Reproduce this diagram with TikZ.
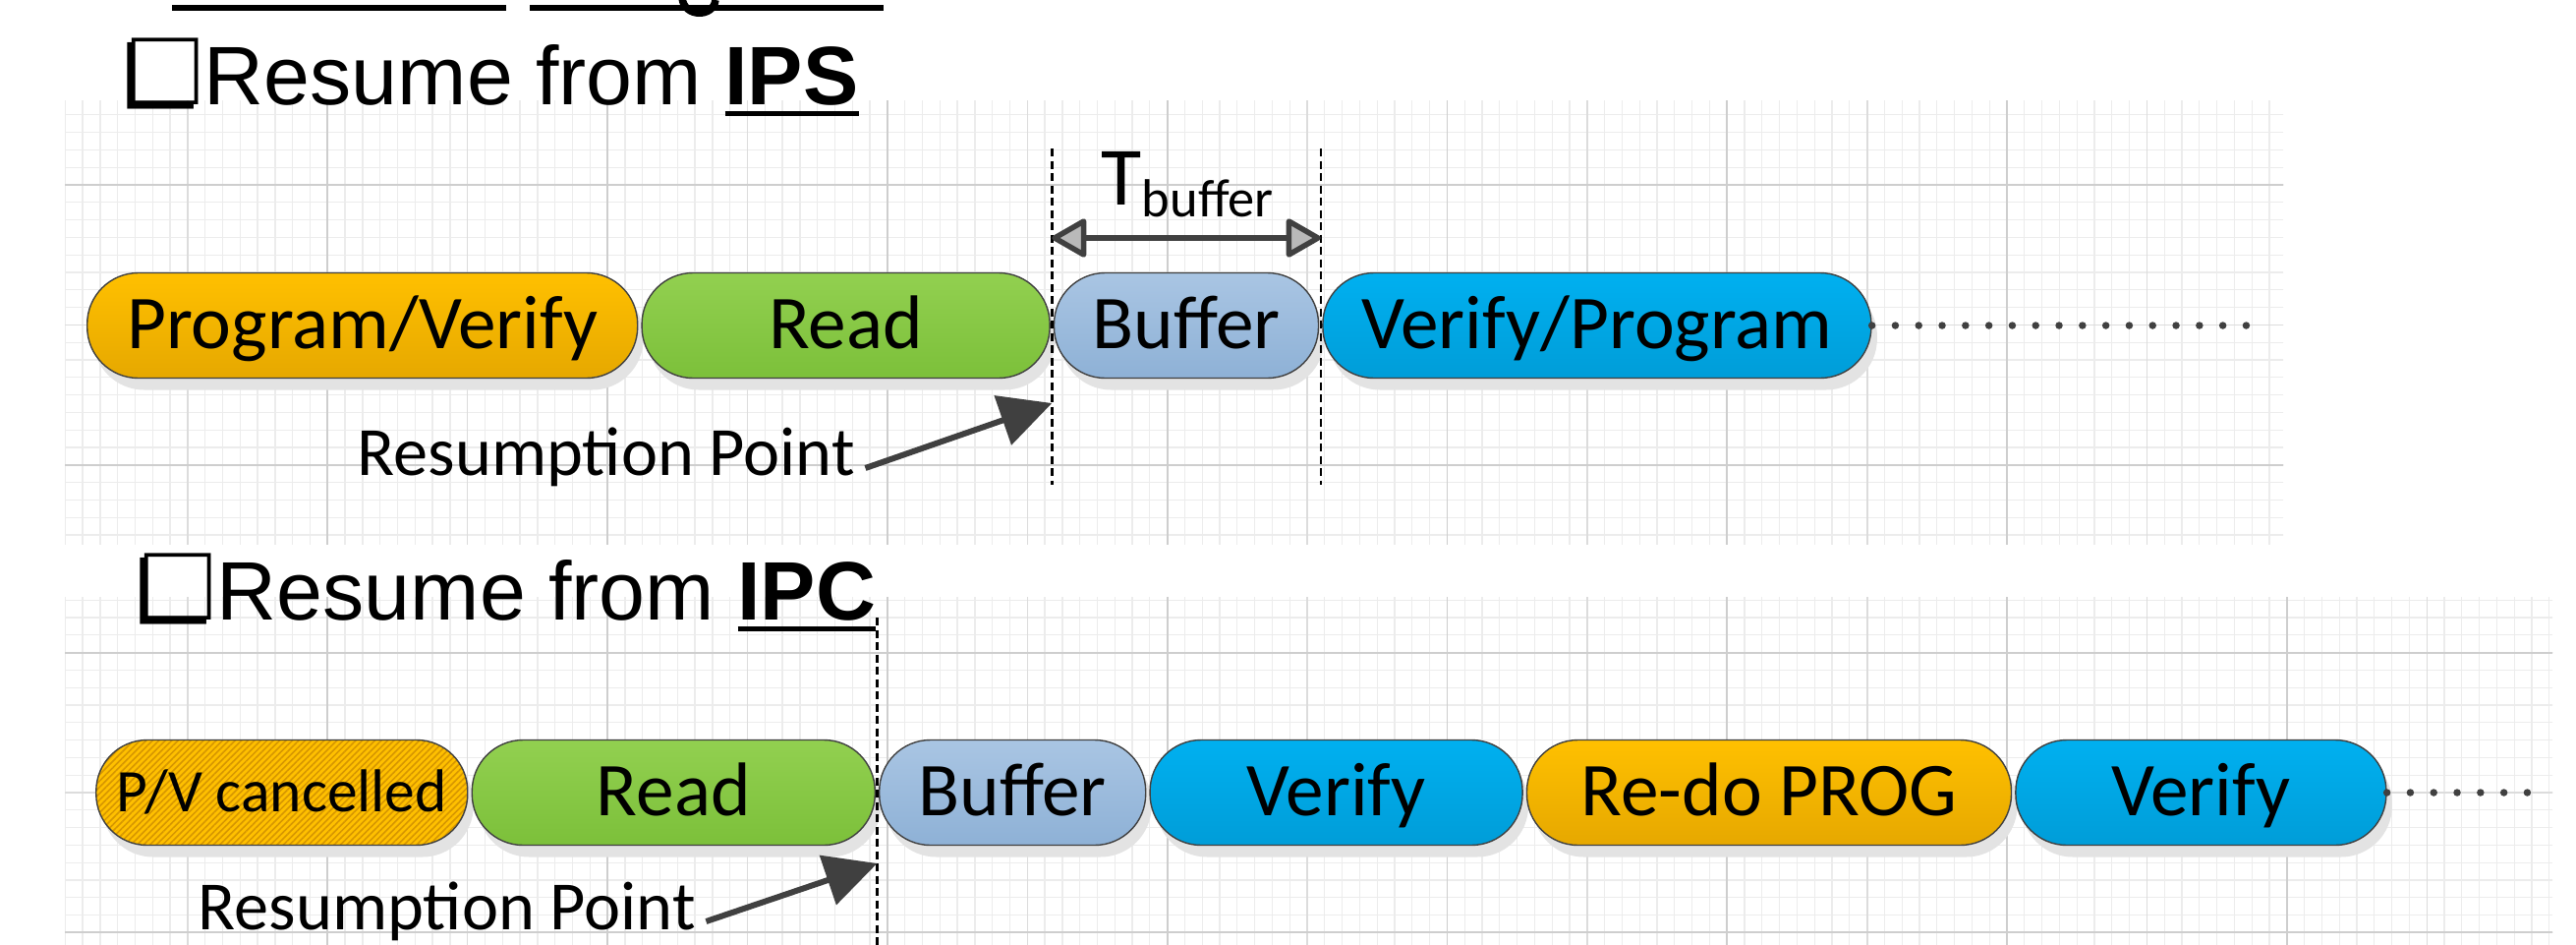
\documentclass[tikz,border=0pt]{standalone}
\usepackage{fontspec}
\setmainfont{Carlito}
\newfontfamily\ttlfont{Liberation Sans}
\newfontfamily\boxfont{DejaVu Sans}
\usepackage{graphicx}
\usepackage{tikz}
\usetikzlibrary{arrows.meta,positioning,calc,shadows,patterns.meta}
\definecolor{rOrange}{RGB}{255,192,0}
\definecolor{rOrangeB}{RGB}{230,168,0}
\definecolor{rHatch}{RGB}{214,150,0}
\definecolor{rGreen}{RGB}{146,208,80}
\definecolor{rGreenB}{RGB}{124,192,58}
\definecolor{rSteel}{RGB}{169,197,227}
\definecolor{rSteelB}{RGB}{142,177,214}
\definecolor{rCyan}{RGB}{0,176,240}
\definecolor{rCyanB}{RGB}{0,157,216}
\definecolor{rLine}{RGB}{64,64,64}
\definecolor{rGridA}{RGB}{236,236,236}
\definecolor{rGridB}{RGB}{220,220,220}
\definecolor{rGridC}{RGB}{206,206,206}
\newcommand{\ulrule}[1]{\setbox0=\hbox{#1}\rlap{\rule[-3.4pt]{\wd0}{1.3pt}}\box0}
\newcommand{\sqbul}{\scalebox{1.1}{\reflectbox{\boxfont ❏}}}

\begin{document}
\begin{tikzpicture}[
			node distance=0.03cm,
			capsule/.style={
				draw=rLine,
				line width=0.4pt,
				rounded corners=0.52cm,
				minimum height=1.07cm,
				inner sep=0pt,
				text height=0.60cm,
				text depth=0.13cm,
				font=\fontsize{22}{26}\selectfont,
				drop shadow={shadow xshift=0.06cm,shadow yshift=-0.12cm,fill=black!11,opacity=1}
			},
			pgm/.style={capsule,top color=rOrange,bottom color=rOrangeB},
			rdg/.style={capsule,top color=rGreen,bottom color=rGreenB},
			bfr/.style={capsule,top color=rSteel,bottom color=rSteelB},
			vfy/.style={capsule,top color=rCyan,bottom color=rCyanB},
			hatch/.style={
				capsule,
				preaction={fill=rOrange},
				pattern={Lines[angle=45,distance=1.3pt,line width=0.45pt]},
				pattern color=rHatch,
				text height=0.55cm,
				text depth=0.17cm,
				font=\fontsize{17.5}{21}\selectfont
			},
			ttl/.style={inner sep=0pt,font=\ttlfont\fontsize{24}{29}\selectfont},
			lbl/.style={inner sep=0pt,font=\fontsize{20}{24}\selectfont},
			gmin/.style={draw=rGridA,line width=0.35pt},
			gmid/.style={draw=rGridB,line width=0.45pt},
			gmaj/.style={draw=rGridC,line width=0.55pt},
			vdash/.style={draw=black,line width=0.7pt,dash pattern=on 0.08cm off 0.045cm},
			dotline/.style={draw=rLine,line width=0.075cm,line cap=round,dash pattern=on 0pt off 0.238cm},
			ptr/.style={draw=rLine,line width=0.06cm,-{Triangle[length=0.53cm,width=0.52cm]}},
			tspan/.style={
				draw=rLine,
				line width=0.06cm,
				{Triangle[length=0.38cm,width=0.42cm,fill=gray!55,line width=0.055cm,round]}-{Triangle[length=0.38cm,width=0.42cm,fill=gray!55,line width=0.055cm,round]}
			}
			]
			\useasboundingbox (0,0) rectangle (26.21,9.60);
			% grid paper
			\begin{scope}
				\clip (0.66,4.07) rectangle (23.23,8.58);
				\begin{scope}[shift={(3.333,7.72)}]
					\draw[gmin,step=0.178] (-3,-4) grid (20,1);
					\draw[gmid,step=1.424] (-3,-4) grid (20,1);
					\draw[gmaj,step=2.848] (-3,-4) grid (20,1);
				\end{scope}
			\end{scope}
			\begin{scope}
				\clip (0.66,0) rectangle (25.97,3.53);
				\begin{scope}[shift={(3.333,2.964)}]
					\draw[gmin,step=0.178] (-3,-3) grid (23,1);
					\draw[gmid,step=1.424] (-3,-3) grid (23,1);
					\draw[gmaj,step=2.848] (-3,-3) grid (23,1);
				\end{scope}
			\end{scope}
			% cut-off heading
			\fill (1.75,9.49) rectangle (5.15,9.55);
			\fill (5.39,9.49) rectangle (8.99,9.55);
			\draw[line width=0.075cm] (6.94,9.62) .. controls (6.96,9.42) and (7.26,9.42) .. (7.28,9.60);
			% resume from IPS
			\node[ttl,anchor=base west](ttl1) at (1.24,8.54){\sqbul Resume from \ulrule{\bfseries IPS}};
			\node[pgm,minimum width=5.60cm,anchor=west](pv) at (0.88,6.29){Program/Verify};
			\node[rdg,minimum width=4.15cm,right=of pv](rd){Read};
			\node[bfr,minimum width=2.69cm,right=of rd](bf){Buffer};
			\node[vfy,minimum width=5.58cm,right=of bf](vp){Verify/Program};
			\coordinate (d1) at ($(rd.east)!0.5!(bf.west)$);
			\coordinate (d2) at ($(bf.east)!0.5!(vp.west)$);
			\coordinate (e1) at (23.05,6.29);
			\draw[vdash] ($(d1)+(0,1.80)$) -- ($(d1)+(0,-1.62)$);
			\draw[vdash] ($(d2)+(0,1.80)$) -- ($(d2)+(0,-1.62)$);
			\draw[tspan] ($(d1)+(0,0.89)$) -- ($(d2)+(0,0.89)$);
			\node[anchor=base west,inner sep=0pt,font=\fontsize{24}{28}\selectfont](tb) at (11.20,7.52){T\raisebox{-0.12cm}{\fontsize{15.5}{18}\selectfont buffer}};
			\draw[dotline] (vp.east) -- (e1);
			\node[lbl,anchor=base west](rp1) at (3.63,4.77){Resumption Point};
			\draw[ptr] ([shift={(0.1,0.07)}]rp1.base east) -- ($(d1)+(0,-0.79)$);
			% resume from IPC
			\node[ttl,anchor=base west](ttl2) at (1.37,3.30){\sqbul Resume from \ulrule{\bfseries IPC}};
			\node[hatch,minimum width=3.78cm,anchor=west](pvx) at (0.97,1.54){P/V cancelled};
			\node[rdg,minimum width=4.10cm,right=of pvx](rdx){Read};
			\node[bfr,minimum width=2.71cm,right=of rdx](bfx){Buffer};
			\node[vfy,minimum width=3.79cm,right=of bfx](vf1){Verify};
			\node[pgm,minimum width=4.93cm,right=of vf1](redo){Re-do PROG};
			\node[vfy,minimum width=3.77cm,right=of redo](vf2){Verify};
			\coordinate (d3) at ($(rdx.east)!0.5!(bfx.west)$);
			\coordinate (e2) at (25.85,1.54);
			\draw[vdash] ($(d3)+(0,1.78)$) -- ($(d3)+(0,-1.62)$);
			\draw[dotline] (vf2.east) -- (e2);
			\node[lbl,anchor=base west](rp2) at (2.01,0.15){Resumption Point};
			\draw[ptr] ([shift={(0.1,0.08)}]rp2.base east) -- ($(d3)+(0,-0.72)$);
		\end{tikzpicture}
\end{document}
